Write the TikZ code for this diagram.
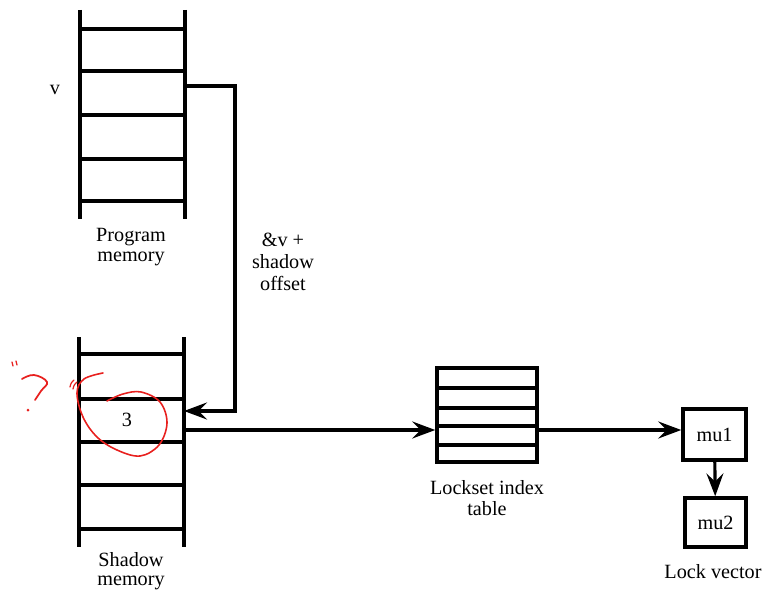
\documentclass[tikz,border=0pt]{standalone}
\usepackage{fontspec}
\setmainfont{Liberation Serif}
\usetikzlibrary{arrows.meta, positioning}
\definecolor{inkred}{HTML}{E8201E}

\begin{document}
\begin{tikzpicture}[x=0.02cm,y=-0.02cm,font=\fontsize{11.5}{11.5}\selectfont,
    rail/.style={line width=2.4pt},
    rung/.style={line width=2pt},
    link/.style={line width=1.8pt,-{Stealth[length=4.6mm,width=3.4mm,inset=1.7mm]}},
    cell/.style={draw,line width=2pt,inner sep=0pt}]
    \useasboundingbox (0,0) rectangle (767,591);
    % program memory
    \draw[rail] (80,10) -- (80,219) (185,10) -- (185,219);
    \foreach \y in {29,71,115,159,201} \draw[rung] (80,\y) -- (185,\y);
    \coordinate (vout) at (185,86);
    \node (v) at (55,90) {v};
    \node[align=center] (pmem) at (131,247) {Program\\memory};
    % shadow memory
    \draw[rail] (79,337) -- (79,547) (184,337) -- (184,547);
    \foreach \y in {354,399,442,485,529} \draw[rung] (79,\y) -- (184,\y);
    \coordinate (sin) at (184,411);
    \coordinate (sout) at (184,430);
    \node (three) at (127,420) {3};
    \node[align=center,font=\fontsize{11.5}{10.5}\selectfont] (smem) at (131,571) {Shadow\\memory};
    % lockset index table
    \node[cell,minimum width=2cm,minimum height=1.88cm] (lit) at (487,415) {};
    \foreach \y in {388,408,426,445} \draw[rung] (437,\y) -- (537,\y);
    \node[align=center,below=0.22cm of lit] (litlbl) {Lockset index\\table};
    % lock vector
    \node[cell,minimum width=1.26cm,minimum height=1.02cm] (mu1) at (714.5,434.5) {mu1};
    \node[cell,minimum width=1.22cm,minimum height=0.98cm] (mu2) at (715.5,522.5) {mu2};
    \node (lvec) at (713,572) {Lock vector};
    % connectors
    \draw[link] (vout) -- (235,86) -- (235,411) -- (sin);
    \node[align=center] (offs) at (283,262) {\&v +\\[1pt]shadow\\[1pt]offset};
    \draw[link] (sout) -- (lit.west |- sout);
    \draw[link] (lit.east |- sout) -- (mu1.west |- sout);
    \draw[link] (mu1) -- (mu2);
    % red pen marks
    \draw[inkred,line width=0.9pt,line cap=round] plot[smooth,tension=0.6] coordinates
      {(103,373) (84,379) (77,393) (83,417) (97,437) (117,450) (140,456) (159,445)
       (167,423) (160,402) (141,392) (123,394) (107,401)};
    \draw[inkred,line width=1pt,line cap=round] plot[smooth,tension=0.7] coordinates
      {(22,379) (34,375) (47,382) (41,391) (35,400)};
    \fill[inkred] (28,410) circle (1.5);
    \draw[inkred,line width=0.7pt,line cap=round] (12,362) -- (13,366) (16,361) -- (17,365)
      (70,387) .. controls (71,383) .. (74,380) (73,389) .. controls (74,385) .. (77,382);
\end{tikzpicture}
\end{document}
